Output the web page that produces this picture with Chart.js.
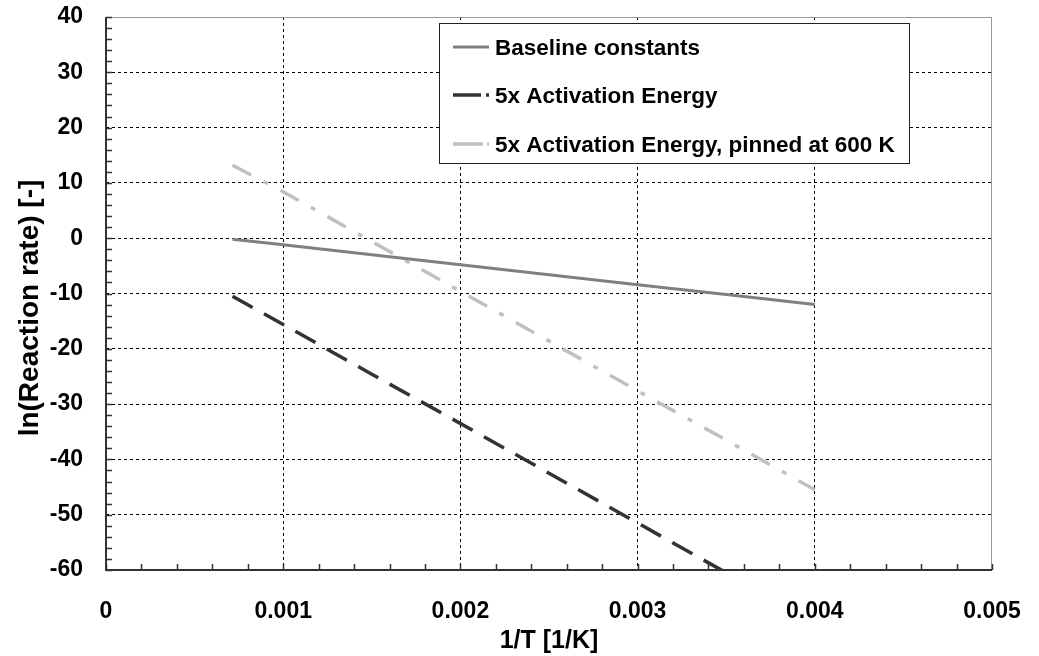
<!DOCTYPE html>
<html>
<head>
<meta charset="utf-8">
<script src="https://cdn.jsdelivr.net/npm/chart.js@4"></script>
<style>
  html, body { margin: 0; padding: 0; background: #fff; }
  #wrap { width: 1039px; height: 656px; }
</style>
</head>
<body>
<div id="wrap"><canvas id="arrhenius"></canvas></div>
<script>
// 1/T values [1/K]
var invT = [0.000714, 0.001, 0.0015, 0.002, 0.0025, 0.003, 0.0035, 0.004];
// ln(rate)
var baseline = [-0.2, -1.2, -3.0, -4.8, -6.6, -8.4, -10.2, -12.0];
var activation5x = [-10.5, -15.6, -24.6, -33.5, -42.5, -51.5, -60.5, null];
var pinned600 = [13.2, 8.4, -0.6, -9.6, -18.6, -27.6, -36.5, -45.5];
var seriesNames = ["Baseline constants", "5x Activation Energy", "5x Activation Energy, pinned at 600 K"];
var yTitle = 'ln(Reaction rate) [-]';

function pts(ys) {
    return invT.map(function (x, i) { return { x: x, y: ys[i] }; });
}

var FONT = "'Liberation Sans', Arial, sans-serif";

// frame, inward minor ticks, y title and the boxed legend
var decorations = {
    id: 'decorations',
    afterDraw: function (chart) {
        var c = chart.ctx, a = chart.chartArea;
        var xs = chart.scales.x, ys = chart.scales.y;
        c.save();
        // top / right frame in grey
        c.strokeStyle = '#999';
        c.lineWidth = 1;
        c.beginPath();
        c.moveTo(a.left, a.top + 0.5); c.lineTo(a.right, a.top + 0.5);
        c.moveTo(a.right - 0.5, a.top); c.lineTo(a.right - 0.5, a.bottom);
        c.stroke();
        // left / bottom axes
        c.strokeStyle = '#333';
        c.lineWidth = 2;
        c.beginPath();
        c.moveTo(a.left, a.top); c.lineTo(a.left, a.bottom);
        c.lineTo(a.right, a.bottom);
        c.stroke();
        // minor ticks pointing inwards
        c.lineWidth = 1.5;
        c.beginPath();
        for (var v = -60; v <= 40; v += 2) {
            var py = Math.round(ys.getPixelForValue(v)) + 0.5;
            c.moveTo(a.left, py); c.lineTo(a.left + 6, py);
        }
        for (var k = 0; k <= 25; k++) {
            var px = Math.round(xs.getPixelForValue(k * 0.0002)) + 0.5;
            c.moveTo(px, a.bottom); c.lineTo(px, a.bottom - 6);
        }
        c.stroke();

        // y axis title
        c.save();
        c.translate(30, 308);
        c.rotate(-Math.PI / 2);
        c.font = 'bold 28px ' + FONT;
        c.fillStyle = '#000';
        c.textAlign = 'center';
        c.textBaseline = 'middle';
        c.fillText(yTitle, 0, 0);
        c.restore();

        // legend box
        var bx = 439, by = 23, bw = 470, bh = 140;
        c.fillStyle = '#fff';
        c.fillRect(bx, by, bw, bh);
        c.strokeStyle = '#222';
        c.lineWidth = 1;
        c.strokeRect(bx + 0.5, by + 0.5, bw, bh);
        var rows = [47, 95, 144];
        c.font = 'bold 22.5px ' + FONT;
        c.textBaseline = 'middle';
        c.textAlign = 'left';
        chart.data.datasets.forEach(function (ds, i) {
            c.strokeStyle = ds.borderColor;
            c.lineWidth = ds.borderWidth;
            c.setLineDash(i === 0 ? [] : (i === 1 ? [28, 5] : [30, 4]));
            c.beginPath();
            c.moveTo(453, rows[i]); c.lineTo(489, rows[i]);
            c.stroke();
            c.setLineDash([]);
            c.fillStyle = '#000';
            c.fillText(ds.label, 495, rows[i] + 2);
        });
        c.restore();
    }
};

var ctx = document.getElementById('arrhenius').getContext('2d');
var chart = new Chart(ctx, {
    type: 'line',
    data: {
        datasets: [{
            label: seriesNames[0],
            data: pts(baseline),
            borderColor: '#808080',
            borderWidth: 3,
            pointRadius: 0
        }, {
            label: seriesNames[1],
            data: pts(activation5x),
            borderColor: '#333333',
            borderWidth: 3.5,
            borderDash: [23, 13],
            pointRadius: 0
        }, {
            label: seriesNames[2],
            data: pts(pinned600),
            borderColor: '#c0c0c0',
            borderWidth: 3.5,
            borderDash: [21, 14, 5, 14],
            pointRadius: 0
        }]
    },
    options: {
        responsive: true,
        maintainAspectRatio: false,
        animation: false,
        layout: { padding: { top: 17, right: 47, left: 0, bottom: 0 } },
        plugins: {
            legend: { display: false },
            tooltip: { enabled: false }
        },
        scales: {
            x: {
                type: 'linear',
                min: 0,
                max: 0.005,
                afterFit: function (s) {
                    s.height = 86;
                    s.paddingLeft = 0; s.paddingRight = 0;
                },
                ticks: {
                    stepSize: 0.001,
                    color: '#000',
                    padding: 28,
                    maxRotation: 0,
                    font: { family: FONT, size: 23, weight: 'bold' },
                    callback: function (v) { return v === 0 ? '0' : v.toFixed(3); }
                },
                grid: {
                    drawTicks: false,
                    color: function (c) {
                        var v = c.tick ? c.tick.value : 0;
                        return (v < 1e-9 || v > 0.00499) ? 'rgba(0,0,0,0)' : '#000';
                    },
                    lineWidth: 1
                },
                border: { display: false, dash: [3, 3] },
                title: {
                    display: true,
                    text: '1/T [1/K]',
                    color: '#000',
                    font: { family: FONT, size: 25, weight: 'bold' },
                    padding: { top: 0, bottom: 0 }
                }
            },
            y: {
                min: -60,
                max: 40,
                afterFit: function (s) {
                    s.width = 106;
                    s.paddingTop = 0; s.paddingBottom = 0;
                },
                ticks: {
                    stepSize: 10,
                    color: '#000',
                    padding: 23,
                    font: { family: FONT, size: 23, weight: 'bold' }
                },
                grid: {
                    drawTicks: false,
                    color: function (c) {
                        var v = c.tick ? c.tick.value : 0;
                        return (v === -60 || v === 40) ? 'rgba(0,0,0,0)' : '#000';
                    },
                    lineWidth: 1
                },
                border: { display: false, dash: [3, 3] }
            }
        }
    },
    plugins: [decorations]
});
</script>
</body>
</html>
